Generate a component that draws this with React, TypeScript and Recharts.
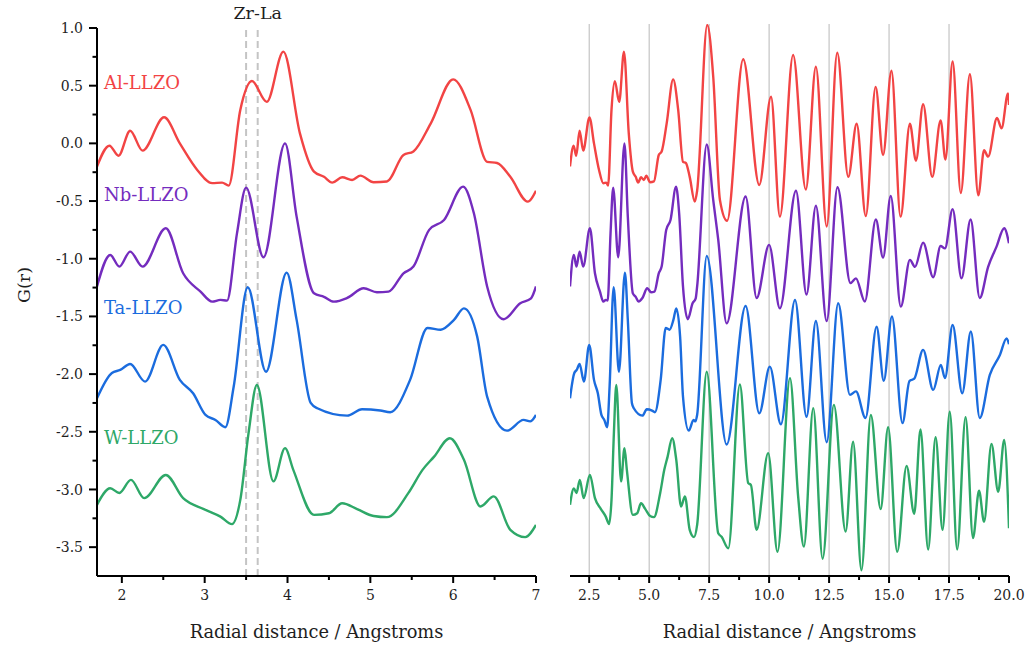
import React from 'react'
import { LineChart, Line, XAxis, YAxis, ReferenceLine } from 'recharts'

type Pt = [number, number]

// G(r) curves, [r, G] (left panel detail up to r = 7)
const AL_LLZO: Pt[] = [
  [1.7, -0.2], [1.85, -0.02], [1.96, -0.107], [2.1, 0.11], [2.25, -0.063], [2.51, 0.226],
  [2.7, 0.0], [2.91, -0.23], [3.09, -0.345], [3.21, -0.34], [3.29, -0.366], [3.43, 0.29],
  [3.57, 0.54], [3.75, 0.36], [3.95, 0.795], [4.15, 0.087], [4.32, -0.245], [4.44, -0.29],
  [4.54, -0.34], [4.66, -0.294], [4.78, -0.317], [4.88, -0.28], [5.04, -0.337], [5.2, -0.33],
  [5.4, -0.1], [5.52, -0.07], [5.73, 0.174], [6.0, 0.555], [6.21, 0.29], [6.41, -0.16],
  [6.53, -0.17], [6.69, -0.29], [6.9, -0.505], [7.0, -0.41],
  [7.42, 1.026], [7.67, 0.58], [7.95, -0.49], [8.25, -0.67], [8.92, 0.73], [9.59, -0.36],
  [10.08, 0.405], [10.45, -0.635], [11.0, 0.766], [11.53, -0.4], [11.95, 0.665], [12.4, -0.72],
  [12.84, 0.786], [13.3, -0.29], [13.65, 0.17], [14.03, -0.63], [14.44, 0.49], [14.75, -0.1],
  [15.1, 0.63], [15.48, -0.635], [15.87, 0.17], [16.12, -0.15], [16.42, 0.34], [16.8, -0.29],
  [17.15, 0.2], [17.35, -0.14], [17.65, 0.71], [17.99, -0.43], [18.37, 0.6], [18.72, -0.45],
  [18.96, -0.06], [19.13, -0.115], [19.5, 0.22], [19.69, 0.13], [19.96, 0.434], [20.0, 0.333],
]

const NB_LLZO: Pt[] = [
  [1.7, -1.24], [1.86, -0.967], [1.97, -1.068], [2.1, -0.938], [2.25, -1.068], [2.53, -0.736],
  [2.74, -1.126], [2.95, -1.285], [3.09, -1.372], [3.19, -1.357], [3.27, -1.363], [3.39, -0.78],
  [3.5, -0.384], [3.71, -0.987], [3.97, 0.0], [4.11, -0.635], [4.32, -1.3], [4.44, -1.33],
  [4.56, -1.372], [4.72, -1.34], [4.92, -1.256], [5.08, -1.29], [5.22, -1.285], [5.4, -1.126],
  [5.52, -1.068], [5.71, -0.75], [5.89, -0.664], [6.12, -0.375], [6.25, -0.606], [6.41, -1.24],
  [6.61, -1.524], [6.81, -1.386], [6.94, -1.343], [7.0, -1.24],
  [7.4, -0.01], [7.67, -0.49], [7.88, -0.837], [8.23, -1.56], [9.02, -0.46], [9.48, -1.34],
  [10.0, -0.88], [10.45, -1.43], [11.12, -0.41], [11.56, -1.31], [11.95, -0.54], [12.4, -1.54],
  [12.85, -0.38], [13.39, -1.21], [13.62, -1.17], [13.99, -1.37], [14.45, -0.66], [14.75, -0.99],
  [15.07, -0.456], [15.49, -1.415], [15.87, -1.01], [16.08, -1.07], [16.42, -0.86], [16.84, -1.16],
  [17.15, -0.89], [17.33, -0.91], [17.65, -0.57], [18.02, -1.17], [18.4, -0.66], [18.78, -1.34],
  [19.13, -1.07], [19.48, -0.895], [19.8, -0.736], [20.0, -0.866],
]

const TA_LLZO: Pt[] = [
  [1.7, -2.209], [1.88, -1.99], [1.98, -1.964], [2.1, -1.912], [2.28, -2.065], [2.5, -1.747],
  [2.7, -2.05], [2.86, -2.166], [3.01, -2.354], [3.13, -2.397], [3.25, -2.46], [3.35, -2.11],
  [3.52, -1.247], [3.74, -1.98], [3.99, -1.12], [4.11, -1.53], [4.28, -2.25], [4.36, -2.296],
  [4.72, -2.36], [4.9, -2.305], [5.12, -2.316], [5.24, -2.33], [5.48, -2.05], [5.69, -1.6],
  [5.85, -1.615], [6.01, -1.53], [6.13, -1.43], [6.29, -1.675], [6.41, -2.195], [6.65, -2.49],
  [6.85, -2.397], [6.93, -2.41], [7.0, -2.354],
  [7.4, -0.976], [8.23, -2.61], [9.02, -1.41], [9.59, -2.34], [10.03, -1.935], [10.49, -2.435],
  [11.08, -1.357], [11.56, -2.37], [11.95, -1.54], [12.4, -2.59], [12.88, -1.386], [13.37, -2.18],
  [13.62, -2.15], [14.02, -2.38], [14.48, -1.59], [14.78, -2.057], [15.12, -1.5], [15.56, -2.425],
  [15.85, -2.06], [16.05, -2.04], [16.42, -1.79], [16.84, -2.137], [17.16, -1.92], [17.33, -2.035],
  [17.65, -1.574], [18.05, -2.166], [18.41, -1.63], [18.78, -2.38], [19.2, -2.007], [19.62, -1.834],
  [19.9, -1.69], [20.0, -1.74],
]

const W_LLZO: Pt[] = [
  [1.7, -3.133], [1.86, -2.99], [1.97, -3.03], [2.11, -2.917], [2.27, -3.075], [2.53, -2.874],
  [2.74, -3.075], [2.99, -3.17], [3.19, -3.235], [3.33, -3.3], [3.43, -3.09], [3.53, -2.51],
  [3.63, -2.094], [3.83, -2.93], [3.97, -2.642], [4.07, -2.83], [4.32, -3.22], [4.5, -3.206],
  [4.66, -3.12], [4.84, -3.17], [5.04, -3.23], [5.2, -3.24], [5.46, -3.03], [5.63, -2.83],
  [5.77, -2.715], [5.96, -2.556], [6.13, -2.743], [6.33, -3.147], [6.49, -3.06], [6.69, -3.35],
  [6.87, -3.413], [7.0, -3.307],
  [7.4, -1.98], [7.88, -3.38], [8.02, -3.41], [8.3, -3.51], [8.78, -2.09], [9.13, -2.945],
  [9.24, -2.96], [9.48, -3.35], [9.96, -2.685], [10.35, -3.54], [10.87, -2.035], [11.21, -3.06],
  [11.45, -3.495], [11.84, -2.295], [12.23, -3.6], [12.7, -2.267], [13.19, -3.365], [13.5, -2.585],
  [13.85, -3.7], [14.24, -2.354], [14.65, -3.17], [14.96, -2.46], [15.34, -3.54], [15.73, -2.795],
  [16.05, -3.21], [16.31, -2.48], [16.63, -3.52], [16.94, -2.547], [17.23, -3.35], [17.53, -2.325],
  [17.84, -3.52], [18.19, -2.373], [18.5, -3.42], [18.75, -3.01], [18.96, -3.28], [19.27, -2.605],
  [19.55, -3.02], [19.8, -2.57], [20.0, -3.335],
]

const SERIES = [
  { name: 'Al-LLZO', color: '#F24444', points: AL_LLZO, labelY: 89 },
  { name: 'Nb-LLZO', color: '#742CBE', points: NB_LLZO, labelY: 201 },
  { name: 'Ta-LLZO', color: '#1B6CDE', points: TA_LLZO, labelY: 314 },
  { name: 'W-LLZO', color: '#2EA868', points: W_LLZO, labelY: 444 },
]

const LEFT_X_TICKS = [2, 2.5, 3, 3.5, 4, 4.5, 5, 5.5, 6, 6.5, 7]
const LEFT_Y_TICKS = [1, 0.75, 0.5, 0.25, 0, -0.25, -0.5, -0.75, -1, -1.25, -1.5, -1.75, -2, -2.25, -2.5, -2.75, -3, -3.25, -3.5]
const RIGHT_X_TICKS = [2.5, 3.75, 5, 6.25, 7.5, 8.75, 10, 11.25, 12.5, 13.75, 15, 16.25, 17.5, 18.75, 20]
const GRID_X = [2.5, 5, 7.5, 10, 12.5, 15, 17.5]
const ZR_LA = [3.5, 3.64]

const FONT = '"DejaVu Serif", "Liberation Serif", serif'
const TEXT = '#1e1e1e'

const toRows = (pts: Pt[], maxX = Infinity) =>
  pts.filter(([x]) => x <= maxX + 1e-9).map(([x, y]) => ({ x, y }))

const xTick = (isMajor: (v: number) => boolean, fmt: (v: number) => string) => (props: any) => {
  const { x, y, payload } = props
  const major = isMajor(payload.value)
  return (
    <g>
      <line x1={x} x2={x} y1={y} y2={y + (major ? 7 : 4)} stroke="#000" strokeWidth={2} />
      {major && (
        <text x={x} y={y + 19} dy="0.36em" textAnchor="middle" fontSize={14} fontFamily={FONT} fill={TEXT}>
          {fmt(payload.value)}
        </text>
      )}
    </g>
  )
}

const yTick = (props: any) => {
  const { x, y, payload } = props
  const major = Number.isInteger(payload.value * 2)
  return (
    <g>
      <line x1={x} x2={x - (major ? 8 : 4.5)} y1={y} y2={y} stroke="#000" strokeWidth={2} />
      {major && (
        <text x={x - 14} y={y} dy="0.36em" textAnchor="end" fontSize={14} fontFamily={FONT} fill={TEXT}>
          {payload.value.toFixed(1)}
        </text>
      )}
    </g>
  )
}

const axisTitle = {
  value: 'Radial distance / Angstroms',
  position: 'insideBottom' as const,
  offset: 10,
  fontSize: 17.8,
  fontFamily: FONT,
  fill: TEXT,
}

export default function App() {
  return (
    <div style={{ position: 'absolute', left: 0, top: 0, width: 1027, height: 648, background: '#fff' }}>
      {/* left panel: zoom on short range */}
      <div style={{ position: 'absolute', left: 0, top: 0 }}>
        <LineChart width={560} height={648} margin={{ top: 28, right: 24, left: 0, bottom: 0 }}>
          <XAxis
            type="number"
            dataKey="x"
            domain={[1.7, 7]}
            allowDataOverflow
            ticks={LEFT_X_TICKS}
            interval={0}
            tickSize={0}
            tickMargin={0}
            tickLine={false}
            tick={xTick((v) => Number.isInteger(v), (v) => String(v))}
            axisLine={{ stroke: '#000', strokeWidth: 2 }}
            height={72}
            label={axisTitle}
          />
          <YAxis
            type="number"
            domain={[-3.75, 1]}
            allowDataOverflow
            ticks={LEFT_Y_TICKS}
            interval={0}
            tickSize={0}
            tickMargin={0}
            tickLine={false}
            tick={yTick}
            axisLine={{ stroke: '#000', strokeWidth: 2 }}
            width={97}
          />
          {ZR_LA.map((r, i) => (
            <ReferenceLine
              key={r}
              x={r}
              stroke="#c4c4c4"
              strokeWidth={2}
              strokeDasharray="7 4"
              label={i === 1 ? { value: 'Zr-La', position: 'top', offset: 9, fontSize: 17.5, fontFamily: FONT, fill: TEXT } : undefined}
            />
          ))}
          {SERIES.map((s) => (
            <Line
              key={s.name}
              data={toRows(s.points, 7)}
              dataKey="y"
              type="monotone"
              stroke={s.color}
              strokeWidth={2.4}
              dot={false}
              isAnimationActive={false}
            />
          ))}
        </LineChart>
      </div>

      {/* right panel: full range */}
      <div style={{ position: 'absolute', left: 560, top: 0 }}>
        <LineChart width={467} height={648} margin={{ top: 24, right: 18, left: 10, bottom: 0 }}>
          <XAxis
            type="number"
            dataKey="x"
            domain={[1.7, 20]}
            allowDataOverflow
            ticks={RIGHT_X_TICKS}
            interval={0}
            tickSize={0}
            tickMargin={0}
            tickLine={false}
            tick={xTick((v) => Number.isInteger(v / 2.5), (v) => v.toFixed(1))}
            axisLine={{ stroke: '#000', strokeWidth: 2 }}
            height={72}
            label={axisTitle}
          />
          <YAxis type="number" domain={[-3.75, 1.035]} allowDataOverflow hide width={0} />
          {GRID_X.map((r) => (
            <ReferenceLine key={r} x={r} stroke="#b8b8b8" strokeWidth={1} />
          ))}
          {SERIES.map((s) => (
            <Line
              key={s.name}
              data={toRows(s.points)}
              dataKey="y"
              type="monotone"
              stroke={s.color}
              strokeWidth={2.4}
              dot={false}
              isAnimationActive={false}
            />
          ))}
        </LineChart>
      </div>

      {/* series names and y title */}
      <svg width={1027} height={648} style={{ position: 'absolute', left: 0, top: 0, pointerEvents: 'none' }}>
        {SERIES.map((s) => (
          <text key={s.name} x={104} y={s.labelY} fontSize={18} fontFamily={FONT} fill={s.color}>
            {s.name}
          </text>
        ))}
        <text transform="translate(30,285) rotate(-90)" textAnchor="middle" fontSize={17.5} fontFamily={FONT} fill={TEXT}>
          G(r)
        </text>
      </svg>
    </div>
  )
}
